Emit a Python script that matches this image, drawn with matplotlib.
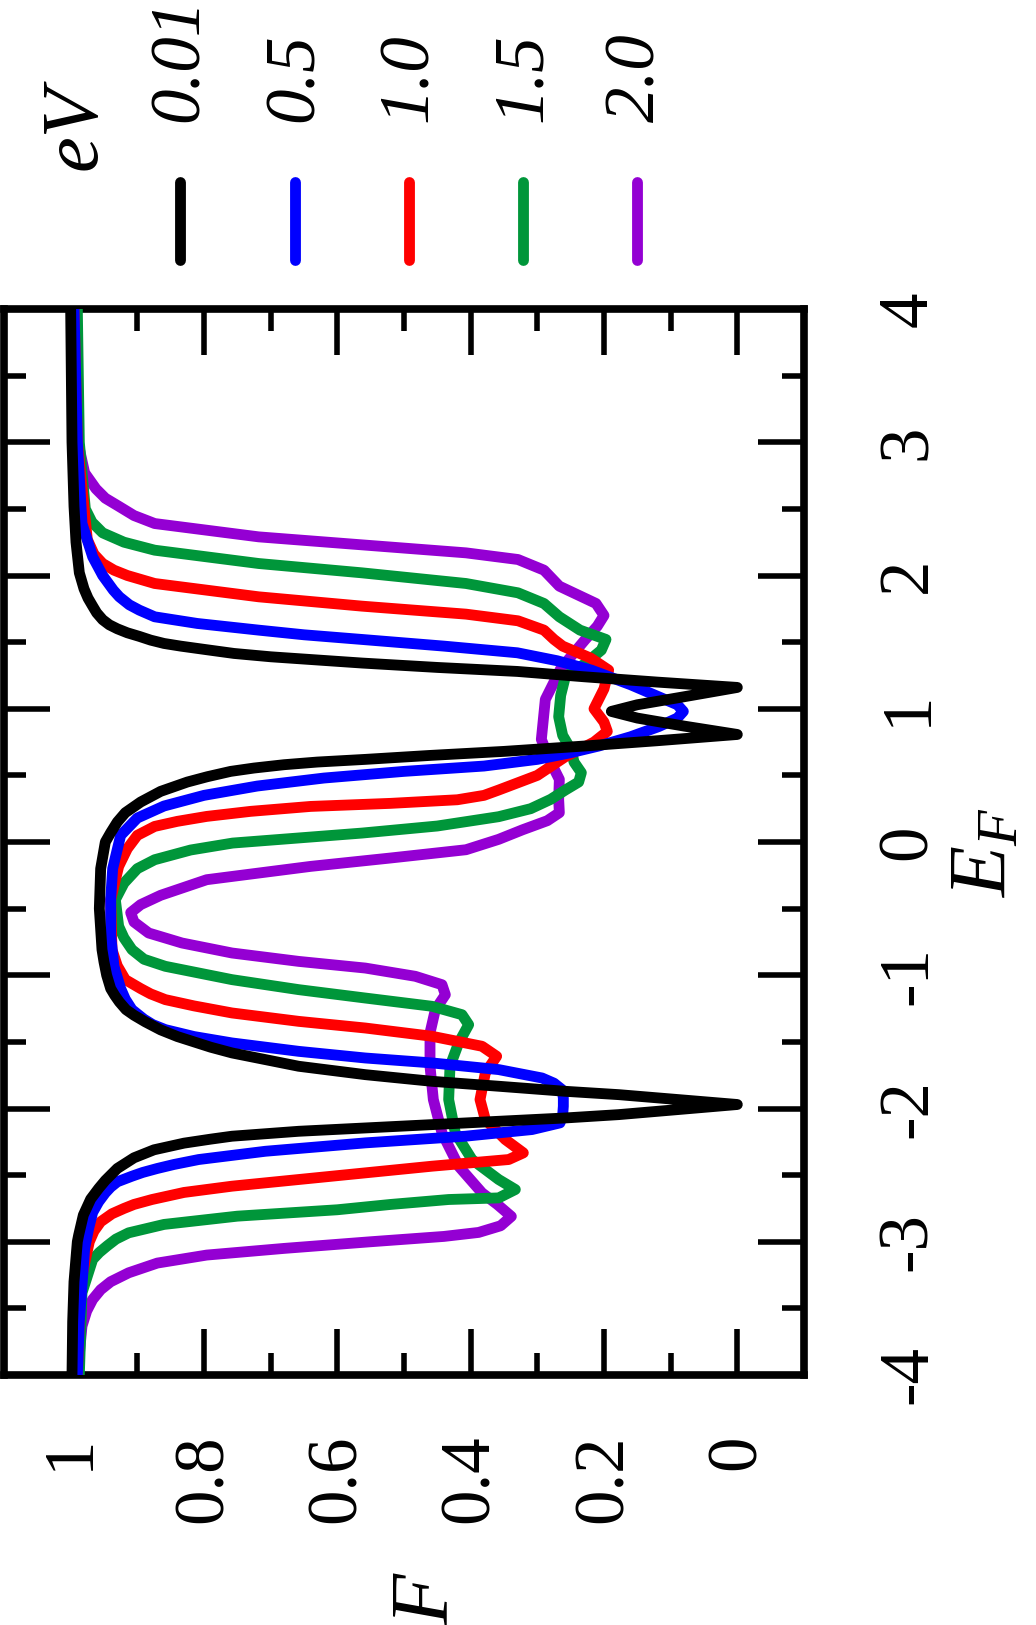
import glob
import matplotlib
matplotlib.use('Agg')
import matplotlib.pyplot as plt
import matplotlib.font_manager as fm
from matplotlib.font_manager import FontProperties
from matplotlib.lines import Line2D
from matplotlib.ticker import FixedLocator


def find_font(family, style):
    try:
        return fm.findfont(FontProperties(family=family, style=style), fallback_to_default=False)
    except Exception:
        return None


reg_path = None
it_path = None
for fam in ['Liberation Serif', 'Times New Roman', 'Nimbus Roman', 'DejaVu Serif']:
    rp = find_font(fam, 'normal')
    ip = find_font(fam, 'italic')
    if rp:
        reg_path, it_path = rp, (ip or rp)
        break
if reg_path is None:
    files = glob.glob('/usr/share/fonts/**/LiberationSerif-Regular.ttf', recursive=True)
    ifiles = glob.glob('/usr/share/fonts/**/LiberationSerif-Italic.ttf', recursive=True)
    if files:
        reg_path = files[0]
        it_path = ifiles[0] if ifiles else files[0]


def fp(size, italic=False):
    path = it_path if italic else reg_path
    if path:
        return FontProperties(fname=path, size=size)
    return FontProperties(family='serif', style='italic' if italic else 'normal', size=size)


serif_name = FontProperties(fname=reg_path).get_name() if reg_path else 'DejaVu Serif'
plt.rcParams['font.family'] = [serif_name, 'DejaVu Serif']
plt.rcParams['mathtext.fontset'] = 'custom'
plt.rcParams['mathtext.rm'] = serif_name
plt.rcParams['mathtext.it'] = serif_name + ':italic'
plt.rcParams['axes.unicode_minus'] = False

# ---------------- data ----------------
bias_labels = ['0.01', '0.5', '1.0', '1.5', '2.0']
colors = ['#000000', '#0000ff', '#ff0000', '#00963a', '#9400d3']

E_ticks = [-4, -3, -2, -1, 0, 1, 2, 3, 4]
E_tick_labels = ['-4', '-3', '-2', '-1', '0', '1', '2', '3', '4']
F_ticks = [1.0, 0.8, 0.6, 0.4, 0.2, 0.0]
F_tick_labels = ['1', '0.8', '0.6', '0.4', '0.2', '0']

# (E_F, F) pairs
curve_001 = [(-4.0, 0.998), (-3.6, 0.997), (-3.3, 0.995), (-3.0, 0.99), (-2.95, 0.988),
             (-2.8, 0.981), (-2.68, 0.97), (-2.6, 0.958), (-2.54, 0.948), (-2.45, 0.93),
             (-2.37, 0.905), (-2.31, 0.875), (-2.26, 0.83), (-2.23, 0.79), (-2.208, 0.758),
             (-2.171, 0.658), (-2.146, 0.558), (-2.121, 0.458), (-2.096, 0.358), (-2.071, 0.258),
             (-2.046, 0.178), (-1.97, 0.0), (-1.896, 0.178), (-1.871, 0.258), (-1.833, 0.358),
             (-1.796, 0.458), (-1.746, 0.558), (-1.683, 0.658), (-1.583, 0.758), (-1.54, 0.79),
             (-1.5, 0.815), (-1.46, 0.84), (-1.41, 0.865), (-1.35, 0.888), (-1.3, 0.905),
             (-1.258, 0.917), (-1.2, 0.927), (-1.15, 0.934), (-1.1, 0.94), (-1.0, 0.946),
             (-0.9, 0.95), (-0.808, 0.953), (-0.5, 0.957), (-0.2, 0.955), (0.0, 0.948),
             (0.07, 0.94), (0.15, 0.93), (0.22, 0.918), (0.30, 0.895), (0.38, 0.865),
             (0.45, 0.825), (0.49, 0.795), (0.53, 0.76), (0.555, 0.725), (0.58, 0.68),
             (0.60, 0.63), (0.62, 0.558), (0.65, 0.46), (0.68, 0.35), (0.72, 0.23),
             (0.76, 0.12), (0.807, 0.0), (0.87, 0.08), (0.93, 0.15), (0.98, 0.189),
             (1.03, 0.15), (1.09, 0.08), (1.16, 0.0), (1.20, 0.12), (1.24, 0.23),
             (1.28, 0.33), (1.31, 0.45), (1.343, 0.563), (1.39, 0.70), (1.415, 0.755),
             (1.443, 0.796), (1.47, 0.835), (1.49, 0.86), (1.515, 0.88), (1.543, 0.897),
             (1.57, 0.915), (1.6, 0.93), (1.63, 0.942), (1.668, 0.952), (1.72, 0.961),
             (1.77, 0.967), (1.83, 0.974), (1.9, 0.98), (2.02, 0.987), (2.25, 0.992),
             (2.52, 0.995), (3.0, 0.998), (3.5, 0.999), (4.0, 1.0)]

curve_05 = [(-4.0, 0.99), (-3.6, 0.987), (-3.05, 0.979), (-2.9, 0.973), (-2.78, 0.967),
            (-2.7, 0.958), (-2.633, 0.948), (-2.59, 0.94), (-2.55, 0.93), (-2.508, 0.908),
            (-2.48, 0.892), (-2.45, 0.87), (-2.42, 0.845), (-2.383, 0.808), (-2.321, 0.708),
            (-2.258, 0.558), (-2.208, 0.408), (-2.158, 0.308), (-2.108, 0.266), (-2.05, 0.262),
            (-1.983, 0.261), (-1.92, 0.261), (-1.858, 0.263), (-1.81, 0.275), (-1.771, 0.293),
            (-1.708, 0.358), (-1.658, 0.458), (-1.621, 0.558), (-1.571, 0.658), (-1.508, 0.758),
            (-1.46, 0.815), (-1.408, 0.858), (-1.37, 0.877), (-1.33, 0.89), (-1.258, 0.908),
            (-1.18, 0.918), (-1.1, 0.925), (-0.933, 0.935), (-0.7, 0.94), (-0.43, 0.94),
            (-0.2, 0.937), (0.05, 0.925), (0.18, 0.90), (0.27, 0.86), (0.35, 0.80),
            (0.42, 0.72), (0.48, 0.62), (0.53, 0.50), (0.57, 0.38), (0.62, 0.30),
            (0.67, 0.25), (0.72, 0.208), (0.79, 0.16), (0.866, 0.118), (0.93, 0.09),
            (0.98, 0.081), (1.03, 0.09), (1.09, 0.118), (1.18, 0.16), (1.29, 0.219),
            (1.36, 0.27), (1.42, 0.33), (1.47, 0.44), (1.52, 0.563), (1.555, 0.65),
            (1.59, 0.718), (1.64, 0.81), (1.69, 0.874), (1.74, 0.897), (1.78, 0.912),
            (1.84, 0.927), (1.89, 0.936), (2.0, 0.952), (2.14, 0.967), (2.39, 0.983),
            (3.0, 0.99), (4.0, 0.995)]

curve_10 = [(-4.0, 0.99), (-3.3, 0.985), (-3.0, 0.972), (-2.92, 0.965), (-2.85, 0.955),
            (-2.79, 0.938), (-2.75, 0.92), (-2.72, 0.905), (-2.683, 0.878), (-2.63, 0.83),
            (-2.583, 0.758), (-2.508, 0.608), (-2.433, 0.458), (-2.383, 0.343), (-2.333, 0.321),
            (-2.233, 0.348), (-2.083, 0.378), (-1.933, 0.386), (-1.733, 0.378), (-1.608, 0.361),
            (-1.533, 0.383), (-1.458, 0.458), (-1.396, 0.558), (-1.346, 0.658), (-1.283, 0.758),
            (-1.23, 0.815), (-1.183, 0.858), (-1.14, 0.88), (-1.1, 0.895), (-1.033, 0.918),
            (-0.93, 0.93), (-0.808, 0.938), (-0.433, 0.94), (-0.183, 0.928), (-0.05, 0.915),
            (0.05, 0.90), (0.117, 0.874), (0.155, 0.84), (0.192, 0.796), (0.23, 0.73),
            (0.267, 0.64), (0.29, 0.52), (0.317, 0.42), (0.35, 0.38), (0.39, 0.358),
            (0.5, 0.30), (0.64, 0.258), (0.75, 0.215), (0.83, 0.195), (0.9, 0.2),
            (1.0, 0.215), (1.15, 0.20), (1.29, 0.193), (1.38, 0.22), (1.47, 0.262),
            (1.52, 0.275), (1.59, 0.29), (1.66, 0.329), (1.71, 0.407), (1.77, 0.563),
            (1.84, 0.718), (1.94, 0.874), (2.0, 0.915), (2.04, 0.935), (2.09, 0.952),
            (2.16, 0.965), (2.27, 0.975), (3.0, 0.99), (4.0, 0.995)]

curve_15 = [(-4.0, 0.987), (-3.383, 0.983), (-3.133, 0.967), (-3.08, 0.957), (-3.03, 0.945),
            (-2.98, 0.932), (-2.933, 0.913), (-2.87, 0.86), (-2.808, 0.75), (-2.76, 0.60),
            (-2.72, 0.52), (-2.683, 0.433), (-2.671, 0.358), (-2.633, 0.343), (-2.608, 0.333),
            (-2.533, 0.358), (-2.383, 0.398), (-2.183, 0.423), (-1.933, 0.433), (-1.683, 0.431),
            (-1.508, 0.418), (-1.371, 0.403), (-1.296, 0.413), (-1.233, 0.458), (-1.171, 0.558),
            (-1.108, 0.658), (-1.033, 0.758), (-0.933, 0.858), (-0.88, 0.89), (-0.808, 0.908),
            (-0.72, 0.92), (-0.633, 0.928), (-0.433, 0.933), (-0.308, 0.92), (-0.2, 0.90),
            (-0.133, 0.874), (-0.06, 0.82), (-0.008, 0.757), (0.067, 0.563), (0.12, 0.45),
            (0.19, 0.358), (0.25, 0.31), (0.32, 0.28), (0.39, 0.258), (0.45, 0.238),
            (0.52, 0.234), (0.60, 0.245), (0.69, 0.249), (0.8, 0.262), (0.94, 0.268),
            (1.1, 0.265), (1.24, 0.258), (1.34, 0.228), (1.44, 0.204), (1.52, 0.197),
            (1.59, 0.236), (1.69, 0.267), (1.79, 0.29), (1.87, 0.329), (1.94, 0.407),
            (2.02, 0.563), (2.09, 0.718), (2.19, 0.874), (2.25, 0.92), (2.32, 0.952),
            (2.4, 0.968), (2.5, 0.978), (3.0, 0.987), (4.0, 0.99)]

curve_20 = [(-4.0, 0.99), (-3.633, 0.983), (-3.52, 0.976), (-3.433, 0.967), (-3.36, 0.955),
            (-3.3, 0.94), (-3.233, 0.913), (-3.16, 0.87), (-3.1, 0.796), (-3.05, 0.68),
            (-3.0, 0.55), (-2.96, 0.44), (-2.93, 0.388), (-2.88, 0.355), (-2.81, 0.339),
            (-2.72, 0.36), (-2.633, 0.383), (-2.433, 0.418), (-2.183, 0.443), (-1.933, 0.456),
            (-1.683, 0.461), (-1.433, 0.461), (-1.258, 0.453), (-1.146, 0.438), (-1.071, 0.443),
            (-1.008, 0.483), (-0.946, 0.558), (-0.896, 0.658), (-0.833, 0.758), (-0.758, 0.833),
            (-0.683, 0.883), (-0.6, 0.905), (-0.53, 0.91), (-0.47, 0.895), (-0.40, 0.865),
            (-0.283, 0.796), (-0.183, 0.64), (-0.12, 0.52), (-0.058, 0.407), (0.02, 0.358),
            (0.092, 0.322), (0.16, 0.285), (0.22, 0.267), (0.32, 0.268), (0.47, 0.267),
            (0.6, 0.28), (0.77, 0.294), (1.07, 0.288), (1.3, 0.265), (1.52, 0.228),
            (1.62, 0.21), (1.70, 0.2), (1.79, 0.212), (1.92, 0.267), (2.04, 0.29),
            (2.12, 0.329), (2.17, 0.407), (2.23, 0.563), (2.29, 0.718), (2.39, 0.874),
            (2.45, 0.905), (2.52, 0.928), (2.58, 0.948), (2.65, 0.962), (2.77, 0.979),
            (3.02, 0.99), (4.0, 0.995)]

curves = [curve_001, curve_05, curve_10, curve_15, curve_20]

# ---------------- figure ----------------
W, H = 1036, 1625
fig = plt.figure(figsize=(W / 100, H / 100), dpi=100)
ax = fig.add_axes([4 / W, 1 - 1375 / H, 800 / W, 1066 / H])

LW = 7.8
for i in reversed(range(len(curves))):
    E_vals = [p[0] for p in curves[i]]
    F_vals = [p[1] for p in curves[i]]
    ax.plot(F_vals, E_vals, color=colors[i], lw=LW,
            solid_joinstyle='round', solid_capstyle='round', zorder=3 + (5 - i))

ax.set_xlim(1.1, -0.1)
ax.set_ylim(-4, 4)

ax.tick_params(which='both', direction='in', top=True, bottom=True, left=True, right=True,
               width=4)
ax.tick_params(which='major', length=33)
ax.tick_params(which='minor', length=16)
ax.tick_params(axis='x', pad=43)
ax.tick_params(axis='y', labelleft=False, labelright=True, pad=52)

ax.set_xticks(F_ticks)
ax.set_xticklabels(F_tick_labels, fontproperties=fp(51), rotation=90, ha='center', va='top')
ax.xaxis.set_minor_locator(FixedLocator([0.9, 0.7, 0.5, 0.3, 0.1]))
ax.set_yticks(E_ticks)
ax.set_yticklabels(E_tick_labels, fontproperties=fp(51), rotation=90, ha='left', va='center')
ax.yaxis.set_minor_locator(FixedLocator([-3.5, -2.5, -1.5, -0.5, 0.5, 1.5, 2.5, 3.5]))

for sp in ax.spines.values():
    sp.set_linewidth(5.5)

# axis labels
fig.text(428 / W, 1 - 1600 / H, 'F', rotation=90, ha='center', va='center',
         fontproperties=fp(60, italic=True))
fig.text(987 / W, 1 - 852 / H, '$E_F$', rotation=90, ha='center', va='center',
         fontsize=60)

# legend (drawn above the axes, rotated like the rest of the chart)
leg_x = [180, 295, 409, 523, 637]
for i, lab in enumerate(bias_labels):
    fig.add_artist(Line2D([leg_x[i] / W, leg_x[i] / W], [1 - 182 / H, 1 - 260 / H],
                          color=colors[i], lw=LW, solid_capstyle='round'))
    fig.text(leg_x[i] / W, 1 - 122 / H, lab, rotation=90, ha='center', va='bottom',
             fontproperties=fp(51, italic=True))
fig.text(76 / W, 1 - 170 / H, 'eV', rotation=90, ha='center', va='bottom',
         fontproperties=fp(58, italic=True))

fig.savefig('out.png', dpi=100)
